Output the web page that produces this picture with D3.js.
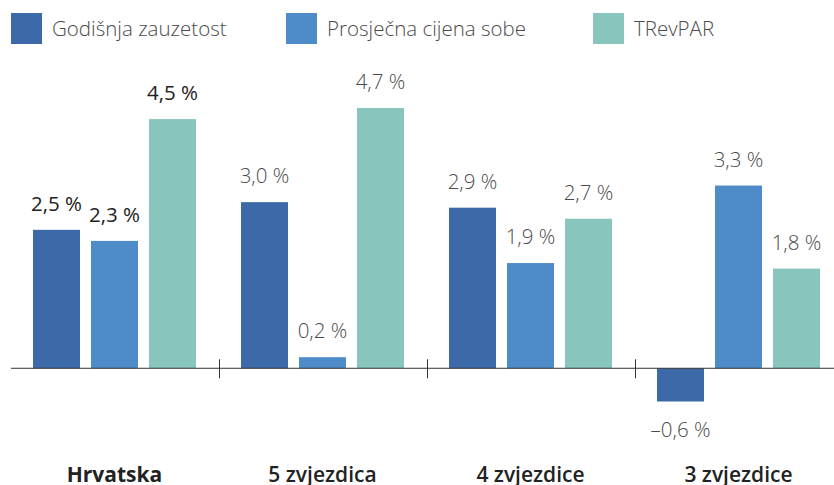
<!DOCTYPE html>
<html>
<head>
<meta charset="utf-8">
<script src="https://cdn.jsdelivr.net/npm/d3@7"></script>
<style>
  body { margin: 0; background: #fff; }
  svg { font-family: "Open Sans", sans-serif; }
</style>
</head>
<body>
<div class="chart"></div>
<script>
var categories = ["Hrvatska", "5 zvjezdica", "4 zvjezdice", "3 zvjezdice"];
var seriesNames = ["Godišnja zauzetost", "Prosječna cijena sobe", "TRevPAR"];
var occupancy = [2.5, 3.0, 2.9, -0.6];
var roomPrice = [2.3, 0.2, 1.9, 3.3];
var trevpar = [4.5, 4.7, 2.7, 1.8];
var colors = ["#3c6aa8", "#4e8bc9", "#87c5bd"];

var svgWidth = 834;
var svgHeight = 485;

var series = [occupancy, roomPrice, trevpar];
var data = [];
categories.forEach(function (c, i) {
    seriesNames.forEach(function (s, j) {
        data.push({ cat: c, ser: s, value: series[j][i], idx: i });
    });
});

var svg = d3.select(".chart")
    .append("svg")
    .attr("width", svgWidth)
    .attr("height", svgHeight);

var x0 = d3.scaleBand()
    .domain(categories)
    .range([10.5, 842.5])
    .paddingInner(0)
    .paddingOuter(0);

var x1 = d3.scaleBand()
    .domain(seriesNames)
    .range([22.5, x0.bandwidth() - 22.5])
    .paddingInner(11 / 58)
    .paddingOuter(0);

var y = d3.scaleLinear()
    .domain([-0.6, 4.7])
    .range([401.5, 108]);

var color = d3.scaleOrdinal().domain(seriesNames).range(colors);

// bars
svg.append("g").selectAll("rect")
    .data(data)
    .enter()
    .append("rect")
    .attr("x", function (d) { return x0(d.cat) + x1(d.ser); })
    .attr("y", function (d) { return y(Math.max(0, d.value)); })
    .attr("width", x1.bandwidth())
    .attr("height", function (d) { return Math.abs(y(d.value) - y(0)); })
    .attr("fill", function (d) { return color(d.ser); });

// value labels
svg.append("g").selectAll("text")
    .data(data)
    .enter()
    .append("text")
    .attr("x", function (d) { return x0(d.cat) + x1(d.ser) + x1.bandwidth() / 2; })
    .attr("y", function (d) {
        return d.value >= 0 ? y(d.value) - 19 : y(d.value) + 35;
    })
    .attr("text-anchor", "middle")
    .attr("font-size", "20.5px")
    .attr("font-weight", function (d) { return d.idx === 0 ? 400 : 300; })
    .attr("fill", function (d) { return d.idx === 0 ? "#222" : "#4a4a4a"; })
    .text(function (d) {
        var s = Math.abs(d.value).toFixed(1).replace(".", ",");
        return (d.value < 0 ? "\u2013" : "") + s + " %";
    });

// zero line and group ticks
svg.append("line")
    .attr("x1", 11)
    .attr("x2", svgWidth)
    .attr("y1", y(0))
    .attr("y2", y(0))
    .attr("stroke", "#333")
    .attr("stroke-width", 1);

svg.append("g").selectAll("line")
    .data(categories.slice(1))
    .enter()
    .append("line")
    .attr("x1", function (d) { return Math.round(x0(d)) + 0.5; })
    .attr("x2", function (d) { return Math.round(x0(d)) + 0.5; })
    .attr("y1", y(0) - 9)
    .attr("y2", y(0) + 10)
    .attr("stroke", "#333")
    .attr("stroke-width", 1);

// category labels
svg.append("g").selectAll("text")
    .data(categories)
    .enter()
    .append("text")
    .attr("x", function (d) { return x0(d) + x0.bandwidth() / 2; })
    .attr("y", 482)
    .attr("text-anchor", "middle")
    .attr("font-size", "21px")
    .attr("font-weight", function (d, i) { return i === 0 ? 700 : 600; })
    .attr("fill", "#222")
    .text(function (d) { return d; });

// legend
var legendX = [11, 286, 593];
var legend = svg.append("g").selectAll("g")
    .data(seriesNames)
    .enter()
    .append("g")
    .attr("transform", function (d, i) { return `translate(${legendX[i]},13)`; });

legend.append("rect")
    .attr("width", 31)
    .attr("height", 31)
    .attr("fill", function (d) { return color(d); });

legend.append("text")
    .attr("x", 41)
    .attr("y", 23)
    .attr("font-size", "20.5px")
    .attr("font-weight", 300)
    .attr("fill", "#4a4a4a")
    .text(function (d) { return d; });
</script>
</body>
</html>
